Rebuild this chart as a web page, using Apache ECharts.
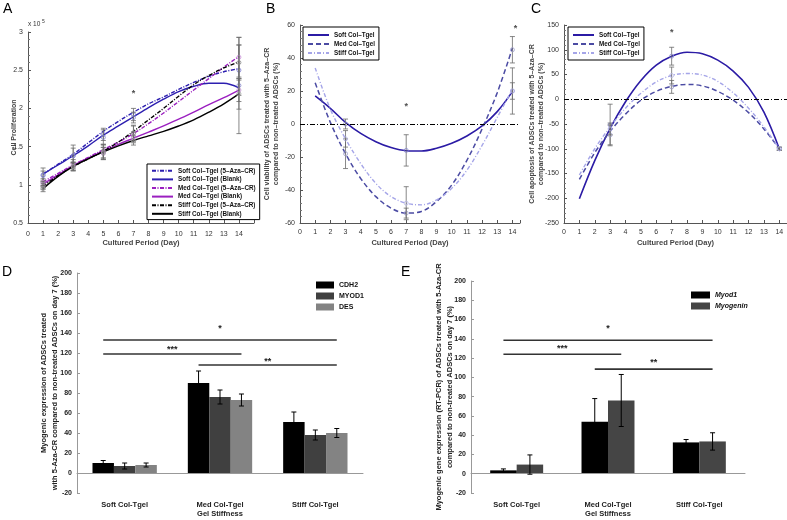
<!DOCTYPE html>
<html>
<head>
<meta charset="utf-8">
<script src="https://cdn.jsdelivr.net/npm/echarts/dist/echarts.min.js"></script>
<style>
html, body { margin: 0; padding: 0; background: #fff; }
#main { width: 787px; height: 520px; }
</style>
</head>
<body>
<div id="main"></div>
<script>
// ---------- panel A : cell proliferation (x 10^5) ----------
var daysA = [1, 2, 3, 4, 5, 6, 7, 8, 9, 10, 11, 12, 13, 14];
var soft5A  = [1.14, 1.27, 1.40, 1.55, 1.70, 1.83, 1.95, 2.06, 2.15, 2.25, 2.34, 2.42, 2.48, 2.52];
var softBA  = [1.14, 1.26, 1.38, 1.51, 1.65, 1.77, 1.89, 2.01, 2.12, 2.22, 2.29, 2.33, 2.33, 2.27];
var med5A   = [1.04, 1.15, 1.26, 1.36, 1.46, 1.56, 1.67, 1.80, 1.94, 2.09, 2.24, 2.39, 2.54, 2.68];
var medBA   = [1.01, 1.13, 1.25, 1.35, 1.44, 1.53, 1.61, 1.69, 1.77, 1.86, 1.95, 2.05, 2.14, 2.24];
var stiff5A = [0.98, 1.12, 1.24, 1.34, 1.44, 1.56, 1.70, 1.85, 2.00, 2.16, 2.31, 2.43, 2.53, 2.61];
var stiffBA = [0.95, 1.11, 1.24, 1.34, 1.43, 1.51, 1.58, 1.64, 1.70, 1.77, 1.85, 1.95, 2.06, 2.19];
var measDaysA = [1, 3, 5, 7, 14];
var soft5Mean  = [1.13, 1.38, 1.66, 1.92, 2.50], soft5Err  = [0.09, 0.14, 0.08, 0.08, 0.33];
var softBMean  = [1.12, 1.38, 1.62, 1.88, 2.30], softBErr  = [0.06, 0.10, 0.10, 0.07, 0.63];
var med5Mean   = [1.03, 1.27, 1.43, 1.67, 2.67], med5Err   = [0.05, 0.06, 0.10, 0.10, 0.26];
var medBMean   = [1.00, 1.24, 1.41, 1.62, 2.24], medBErr   = [0.04, 0.05, 0.08, 0.07, 0.15];
var stiff5Mean = [0.98, 1.24, 1.44, 1.68, 2.60], stiff5Err = [0.04, 0.06, 0.09, 0.10, 0.23];
var stiffBMean = [0.95, 1.24, 1.42, 1.58, 2.19], stiffBErr = [0.04, 0.05, 0.07, 0.06, 0.20];
var starsA = [[7, 2.20]];
var namesA = ['Soft Col–Tgel (5–Aza–CR)', 'Soft Col–Tgel (Blank)', 'Med Col–Tgel (5–Aza–CR)',
              'Med Col–Tgel (Blank)', 'Stiff Col–Tgel (5–Aza–CR)', 'Stiff Col–Tgel (Blank)'];

// ---------- panel B : cell viability (%) ----------
var daysBC = [1, 2, 3, 4, 5, 6, 7, 8, 9, 10, 11, 12, 13, 14];
var softB  = [17, 9.5, 1, -5.7, -10.7, -14.3, -16.2, -16.4, -14.7, -11.7, -7.3, -1.2, 7.5, 19.6];
var medB   = [25, 1, -18, -33, -44, -51, -54, -53, -47, -37, -22, -3, 19, 46];
var stiffB = [34, 9, -9, -24, -36, -44, -48, -49, -46, -39, -28, -13, 4, 21];
var measDaysBC = [3, 7, 14];
var softBMeas = [0, -16, 20],   softBMErr = [3, 9.5, 14];
var medBMeas  = [-18, -54, 45], medBMErr  = [9, 3, 8];
var stiffBMeas = [-9, -48, 20], stiffBMErr = [5, 10, 5];
var starsB = [[7, 10.5], [14.2, 58]];
var namesBC = ['Soft Col–Tgel', 'Med Col–Tgel', 'Stiff Col–Tgel'];

// ---------- panel C : cell apoptosis (%) ----------
var softC  = [-201, -124, -59, -5, 38, 69, 87, 95, 92, 79, 57, 24, -26, -100];
var medC   = [-162, -108, -65, -30, -2, 16, 26, 30, 27, 16, -2, -27, -60, -100];
var stiffC = [-153, -100, -56, -18, 12, 35, 48, 52, 49, 36, 13, -18, -56, -100];
var softCMeas = [-52, 87, -100],  softCErr = [42, 18, 3];
var medCMeas  = [-72, 25, -100],  medCErr  = [20, 13, 3];
var stiffCMeas = [-60, 48, -100], stiffCErr = [12, 17, 3];
var starsC = [[7, 135]];

// ---------- panel D : myogenic expression ----------
var catsD = ['Soft Col-Tgel', 'Med Col-Tgel', 'Stiff Col-Tgel'];
var cdh2 = [10, 90, 51],  cdh2Err = [2.5, 12, 10];
var myod1D = [7, 76, 38], myod1DErr = [3, 7, 5];
var desD = [8, 73, 40],   desDErr = [2, 6, 4.5];
// [fromCat, fromBar, toCat, toBar, lineY, labelY]
var bracketsD = [[0, 0, 2, 2, 133, 144], [0, 0, 1, 2, 119, 123], [1, 0, 2, 2, 108, 111]];
var bracketLabelsD = ['*', '***', '**'];

// ---------- panel E : myogenic gene expression (RT-PCR) ----------
var myod1E = [3.5, 54, 32.5], myod1EErr = [1.5, 24, 3];
var myogE = [9.5, 76, 33.5],  myogEErr = [10, 27, 9];
var bracketsE = [[0, 0, 2, 1, 138.5, 151], [0, 0, 1, 1, 124, 130], [1, 0, 2, 1, 108.5, 115]];
var bracketLabelsE = ['*', '***', '**'];

function zip(xs, ys) { return xs.map(function (x, i) { return [x, ys[i]]; }); }
function zip3(xs, ys, es) { return xs.map(function (x, i) { return [x, ys[i], es[i]]; }); }
function barErrData(vals) {
  // vals: list of [means, errs] per bar
  var out = [];
  vals.forEach(function (v, b) {
    v[0].forEach(function (m, c) { out.push([c, b, m, v[1][c]]); });
  });
  return out;
}

var FONT = 'Liberation Sans, Arial, sans-serif';
var dashDot = [4, 1.5, 1, 1.5];

function curve(name, xi, xs, ys, color, type, width) {
  return {
    type: 'line', name: name, xAxisIndex: xi, yAxisIndex: xi, data: zip(xs, ys),
    symbol: 'none', smooth: 0.35, silent: true, z: 2,
    lineStyle: { color: color, width: width, type: type }, itemStyle: { color: color }
  };
}

function errSeries(xi, data, color) {
  return {
    type: 'custom', xAxisIndex: xi, yAxisIndex: xi, data: data, silent: true, z: 3, clip: false,
    encode: { x: 0, y: 1 },
    renderItem: function (p, api) {
      var x = api.value(0), m = api.value(1), e = api.value(2);
      var hi = api.coord([x, m + e]), lo = api.coord([x, m - e]), c = api.coord([x, m]);
      function st() { return { stroke: '#6a6a6a', lineWidth: 0.8 }; }
      return {
        type: 'group', children: [
          { type: 'line', shape: { x1: hi[0], y1: hi[1], x2: lo[0], y2: lo[1] }, style: st() },
          { type: 'line', shape: { x1: hi[0] - 2.5, y1: hi[1], x2: hi[0] + 2.5, y2: hi[1] }, style: st() },
          { type: 'line', shape: { x1: lo[0] - 2.5, y1: lo[1], x2: lo[0] + 2.5, y2: lo[1] }, style: st() },
          { type: 'circle', shape: { cx: c[0], cy: c[1], r: 2 }, style: { fill: 'none', stroke: color, lineWidth: 0.8 } }
        ]
      };
    }
  };
}

function starSeries(xi, data) {
  return {
    type: 'scatter', xAxisIndex: xi, yAxisIndex: xi, data: data, silent: true,
    symbol: 'circle', symbolSize: 1, itemStyle: { color: 'rgba(0,0,0,0)' },
    label: { show: true, position: 'inside', formatter: '*', fontSize: 9, fontWeight: 'bold', color: '#222' }
  };
}

function barErrSeries(xi, data, nBars, frac) {
  return {
    type: 'custom', xAxisIndex: xi, yAxisIndex: xi, data: data, silent: true, z: 5, clip: false,
    encode: { x: 0, y: 2 },
    renderItem: function (p, api) {
      var bw = api.size([1, 0])[0] * frac;
      var off = (api.value(1) - (nBars - 1) / 2) * bw;
      var m = api.value(2), e = api.value(3), cat = api.value(0);
      var hi = api.coord([cat, m + e]), lo = api.coord([cat, m - e]);
      var x = hi[0] + off;
      function st() { return { stroke: '#000', lineWidth: 1 }; }
      return {
        type: 'group', children: [
          { type: 'line', shape: { x1: x, y1: hi[1], x2: x, y2: lo[1] }, style: st() },
          { type: 'line', shape: { x1: x - 2.5, y1: hi[1], x2: x + 2.5, y2: hi[1] }, style: st() },
          { type: 'line', shape: { x1: x - 2.5, y1: lo[1], x2: x + 2.5, y2: lo[1] }, style: st() }
        ]
      };
    }
  };
}

function bracketSeries(xi, data, labels, nBars, frac) {
  return {
    type: 'custom', xAxisIndex: xi, yAxisIndex: xi, data: data, silent: true, z: 5, clip: false,
    encode: { x: 0, y: 4 },
    renderItem: function (p, api) {
      var bw = api.size([1, 0])[0] * frac;
      var a = api.coord([api.value(0), api.value(4)]);
      var b = api.coord([api.value(2), api.value(4)]);
      var x1 = a[0] + (api.value(1) - (nBars - 1) / 2) * bw;
      var x2 = b[0] + (api.value(3) - (nBars - 1) / 2) * bw;
      var ly = api.coord([api.value(0), api.value(5)])[1];
      return {
        type: 'group', children: [
          { type: 'line', shape: { x1: x1, y1: a[1], x2: x2, y2: a[1] }, style: { stroke: '#333', lineWidth: 1.6 } },
          { type: 'text', x: (x1 + x2) / 2, y: ly,
            style: { text: labels[p.dataIndex], align: 'center', verticalAlign: 'middle',
                     textAlign: 'center', textVerticalAlign: 'middle',
                     font: 'bold 9px ' + FONT, fill: '#222' } }
        ]
      };
    }
  };
}

function lineX(gi, max, margin) {
  return {
    type: 'value', gridIndex: gi, min: 0, max: max, interval: 1,
    name: 'Cultured Period (Day)', nameLocation: 'middle', nameGap: 16, nameMoveOverlap: false,
    nameTextStyle: { fontSize: 7.5, fontWeight: 'bold', color: '#444' },
    axisLine: { show: true, onZero: false, lineStyle: { color: '#555' } },
    axisTick: { show: true, inside: true, length: 3, lineStyle: { color: '#555' } },
    axisLabel: { fontSize: 7, color: '#333', margin: margin,
                 formatter: function (v) { return (Math.round(v) === v && v <= 14) ? String(v) : ''; } },
    splitLine: { show: false }
  };
}

function lineY(gi, min, max, interval, name, gap) {
  return {
    type: 'value', gridIndex: gi, min: min, max: max, interval: interval,
    name: name, nameLocation: 'middle', nameGap: gap, nameMoveOverlap: false,
    nameTextStyle: { fontSize: 7, fontWeight: 'bold', color: '#444', lineHeight: 8.5 },
    axisLine: { show: true, onZero: false, lineStyle: { color: '#555' } },
    axisTick: { show: true, inside: true, length: 3, lineStyle: { color: '#555' } },
    minorTick: { show: true, splitNumber: 5, length: 2, lineStyle: { color: '#777' } },
    axisLabel: { fontSize: 7, color: '#333', margin: 5 },
    splitLine: { show: false }, minorSplitLine: { show: false }
  };
}

function barX(gi) {
  return {
    type: 'category', gridIndex: gi, data: catsD, offset: 5,
    name: 'Gel Stiffness', nameLocation: 'middle', nameGap: 12, nameMoveOverlap: false,
    nameTextStyle: { fontSize: 7.5, fontWeight: 'bold', color: '#222' },
    axisLine: { show: true, lineStyle: { color: '#999' } },
    axisTick: { show: true, inside: true, alignWithLabel: true, length: 3, lineStyle: { color: '#999' } },
    axisLabel: { fontSize: 7.5, fontWeight: 'bold', color: '#222', margin: 3 },
    splitLine: { show: false }
  };
}

function barY(gi, name, gap) {
  return {
    type: 'value', gridIndex: gi, min: -20, max: 200, interval: 20,
    name: name, nameLocation: 'middle', nameGap: gap, nameMoveOverlap: false,
    nameTextStyle: { fontSize: 7.5, fontWeight: 'bold', color: '#222', lineHeight: 11.5 },
    axisLine: { show: true, onZero: false, lineStyle: { color: '#999' } },
    axisTick: { show: true, inside: true, length: 3, lineStyle: { color: '#999' } },
    axisLabel: { fontSize: 7, fontWeight: 'bold', color: '#222', margin: 5 },
    splitLine: { show: false }
  };
}

function legendBox(names, left, top, itemH, pad) {
  return {
    data: names, left: left, top: top, orient: 'vertical', selectedMode: false,
    itemWidth: 21, itemHeight: itemH, itemGap: 1, padding: pad,
    itemStyle: { opacity: 0, borderWidth: 0 },
    borderColor: '#000', borderWidth: 1, backgroundColor: '#fff',
    textStyle: { fontSize: 6.3, fontWeight: 'bold', color: '#111', lineHeight: itemH }
  };
}

var zeroLine = {
  silent: true, symbol: 'none', label: { show: false },
  lineStyle: { color: '#000', width: 1, type: [5, 2, 1, 2] }, data: [{ yAxis: 0 }]
};
var baseLine = {
  silent: true, symbol: 'none', label: { show: false },
  lineStyle: { color: '#999', width: 1, type: 'solid' }, data: [{ yAxis: 0 }]
};

var cSoft = '#2d1fb0', cMed = '#9b1fc0', cStiff = '#000';
var bSoft = '#2b1ba5', bMed = '#4b4ba3', bStiff = '#a5a5e8';

var seriesB = [
  curve(namesBC[0], 1, daysBC, softB, bSoft, 'solid', 1.6),
  curve(namesBC[1], 1, daysBC, medB, bMed, [5, 3], 1.5),
  curve(namesBC[2], 1, daysBC, stiffB, bStiff, [4, 2, 1, 2], 1.4)
];
seriesB[0].markLine = zeroLine;
var seriesC = [
  curve(namesBC[0], 2, daysBC, softC, bSoft, 'solid', 1.6),
  curve(namesBC[1], 2, daysBC, medC, bMed, [5, 3], 1.5),
  curve(namesBC[2], 2, daysBC, stiffC, bStiff, [4, 2, 1, 2], 1.4)
];
seriesC[0].markLine = zeroLine;

var barsD = [
  { type: 'bar', name: 'CDH2', xAxisIndex: 3, yAxisIndex: 3, data: cdh2, barWidth: '22.5%', barGap: '0%',
    itemStyle: { color: '#000' }, markLine: baseLine, silent: true },
  { type: 'bar', name: 'MYOD1', xAxisIndex: 3, yAxisIndex: 3, data: myod1D, barWidth: '22.5%', barGap: '0%',
    itemStyle: { color: '#404040' }, silent: true },
  { type: 'bar', name: 'DES', xAxisIndex: 3, yAxisIndex: 3, data: desD, barWidth: '22.5%', barGap: '0%',
    itemStyle: { color: '#838383' }, silent: true }
];
var barsE = [
  { type: 'bar', name: 'Myod1', xAxisIndex: 4, yAxisIndex: 4, data: myod1E, barWidth: '29%', barGap: '0%',
    itemStyle: { color: '#000' }, markLine: baseLine, silent: true },
  { type: 'bar', name: 'Myogenin', xAxisIndex: 4, yAxisIndex: 4, data: myogE, barWidth: '29%', barGap: '0%',
    itemStyle: { color: '#454545' }, silent: true }
];

var myChart = echarts.init(document.getElementById('main'));
var option = {
  animation: false,
  backgroundColor: '#fff',
  textStyle: { fontFamily: FONT },
  grid: [
    { left: 28, top: 32, width: 226, height: 191, outerBoundsMode: 'none' },
    { left: 300, top: 25, width: 220, height: 198, outerBoundsMode: 'none' },
    { left: 564, top: 25, width: 223, height: 198, outerBoundsMode: 'none' },
    { left: 77, top: 273, width: 286, height: 220, outerBoundsMode: 'none' },
    { left: 471, top: 281, width: 274, height: 212, outerBoundsMode: 'none' }
  ],
  xAxis: [lineX(0, 15, 8), lineX(1, 14.5, 6), lineX(2, 14.5, 6), barX(3), barX(4)],
  yAxis: [
    lineY(0, 0.5, 3, 0.5, 'Cell Proliferation', 10),
    lineY(1, -60, 60, 20, 'Cell viability of ADSCs treated with 5–Aza–CR\ncompared to non–treated ADSCs (%)', 20),
    lineY(2, -250, 150, 50, 'Cell apoptosis of ADSCs treated with 5–Aza–CR\ncompared to non–treated ADSCs (%)', 19),
    barY(3, 'Myogenic expression of ADSCs treated\nwith 5-Aza-CR compared to non-treated ADSCs on day 7 (%)', 16),
    barY(4, 'Myogenic gene expression (RT-PCR) of ADSCs treated with 5-Aza-CR\ncompared to non-treated ADSCs on day 7 (%)', 15)
  ],
  legend: [
    legendBox(namesA, 147, 164, 7.6, [3, 4, 2, 4]),
    legendBox(namesBC, 303, 27, 8, [4, 4, 3, 4]),
    legendBox(namesBC, 568, 27, 8, [4, 4, 3, 4]),
    { data: ['CDH2', 'MYOD1', 'DES'], left: 311, top: 276, orient: 'vertical', selectedMode: false,
      itemWidth: 18, itemHeight: 7, itemGap: 3, icon: 'rect',
      textStyle: { fontSize: 7, fontWeight: 'bold', color: '#111', lineHeight: 8 } },
    { data: ['Myod1', 'Myogenin'], left: 686, top: 286, orient: 'vertical', selectedMode: false,
      itemWidth: 19, itemHeight: 7, itemGap: 3, icon: 'rect',
      textStyle: { fontSize: 7, fontWeight: 'bold', fontStyle: 'italic', color: '#111', lineHeight: 8 } }
  ],
  graphic: [
    { type: 'text', left: 3, top: 2, style: { text: 'A', font: '14px ' + FONT, fill: '#000' } },
    { type: 'text', left: 266, top: 2, style: { text: 'B', font: '14px ' + FONT, fill: '#000' } },
    { type: 'text', left: 531, top: 2, style: { text: 'C', font: '14px ' + FONT, fill: '#000' } },
    { type: 'text', left: 2, top: 265, style: { text: 'D', font: '14px ' + FONT, fill: '#000' } },
    { type: 'text', left: 401, top: 265, style: { text: 'E', font: '14px ' + FONT, fill: '#000' } },
    { type: 'text', left: 28, top: 21, style: { text: 'x 10', font: '6.5px ' + FONT, fill: '#333' } },
    { type: 'text', left: 42, top: 19, style: { text: '5', font: '5px ' + FONT, fill: '#333' } }
  ],
  series: [
    curve(namesA[0], 0, daysA, soft5A, cSoft, dashDot, 1.4),
    curve(namesA[1], 0, daysA, softBA, cSoft, 'solid', 1.4),
    curve(namesA[2], 0, daysA, med5A, cMed, dashDot, 1.4),
    curve(namesA[3], 0, daysA, medBA, cMed, 'solid', 1.4),
    curve(namesA[4], 0, daysA, stiff5A, cStiff, dashDot, 1.4),
    curve(namesA[5], 0, daysA, stiffBA, cStiff, 'solid', 1.4),
    errSeries(0, zip3(measDaysA, soft5Mean, soft5Err), '#7777cc'),
    errSeries(0, zip3(measDaysA, softBMean, softBErr), '#8888cc'),
    errSeries(0, zip3(measDaysA, med5Mean, med5Err), '#c58ad6'),
    errSeries(0, zip3(measDaysA, medBMean, medBErr), '#b88cc8'),
    errSeries(0, zip3(measDaysA, stiff5Mean, stiff5Err), '#888'),
    errSeries(0, zip3(measDaysA, stiffBMean, stiffBErr), '#999'),
    starSeries(0, starsA)
  ].concat(seriesB, [
    errSeries(1, zip3(measDaysBC, softBMeas, softBMErr), '#8888cc'),
    errSeries(1, zip3(measDaysBC, medBMeas, medBMErr), '#9999c8'),
    errSeries(1, zip3(measDaysBC, stiffBMeas, stiffBMErr), '#b5b5e5'),
    starSeries(1, starsB)
  ], seriesC, [
    errSeries(2, zip3(measDaysBC, softCMeas, softCErr), '#8888cc'),
    errSeries(2, zip3(measDaysBC, medCMeas, medCErr), '#9999c8'),
    errSeries(2, zip3(measDaysBC, stiffCMeas, stiffCErr), '#b5b5e5'),
    starSeries(2, starsC)
  ], barsD, [
    barErrSeries(3, barErrData([[cdh2, cdh2Err], [myod1D, myod1DErr], [desD, desDErr]]), 3, 0.225),
    bracketSeries(3, bracketsD, bracketLabelsD, 3, 0.225)
  ], barsE, [
    barErrSeries(4, barErrData([[myod1E, myod1EErr], [myogE, myogEErr]]), 2, 0.29),
    bracketSeries(4, bracketsE, bracketLabelsE, 2, 0.29)
  ])
};
myChart.setOption(option);
</script>
</body>
</html>
